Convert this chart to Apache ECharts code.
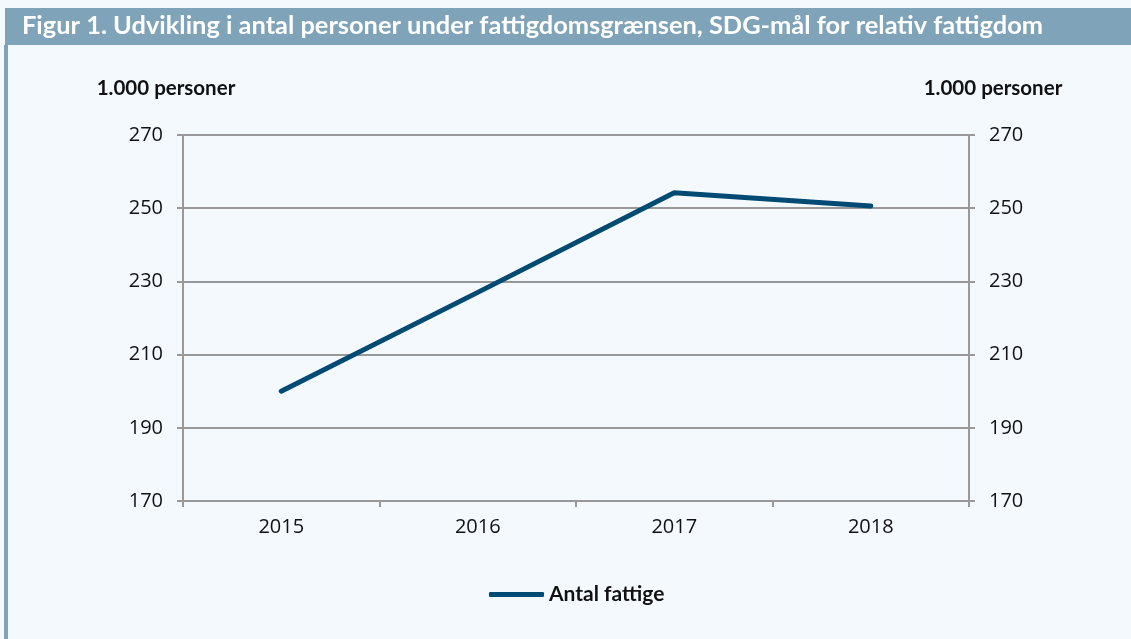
<!DOCTYPE html>
<html>
<head>
<meta charset="utf-8">
<script src="https://cdn.jsdelivr.net/npm/echarts@6/dist/echarts.min.js"></script>
<style>
  html, body { margin: 0; padding: 0; background: #f4f9fd; }
  #chart { width: 1131px; height: 639px; }
</style>
</head>
<body>
<div id="chart"></div>
<script>
// 数据
const years = ['2015', '2016', '2017', '2018']
const fattige = [200, 227, 254.2, 250.6]
const seriesName = 'Antal fattige'
const axisName = '1.000 personer'
const titleText = 'Figur 1. Udvikling i antal personer under fattigdomsgrænsen, SDG-mål for relativ fattigdom'

const chart = echarts.init(document.getElementById('chart'))

const axisLabelStyle = { color: '#111', fontSize: 20, fontFamily: 'Open Sans' }
const nameStyle = { color: '#111', fontSize: 20.5, fontWeight: 'bold', fontFamily: 'Lato' }

const options = {
  backgroundColor: '#f4f9fd',
  graphic: [
    // 标题背景条
    { type: 'rect', left: 5, top: 8, shape: { width: 1126, height: 37 }, style: { fill: '#7fa3b8' } },
    // 左边竖线
    { type: 'rect', left: 4, top: 45, shape: { width: 4, height: 594 }, style: { fill: '#7fa3b8' } },
    {
      type: 'text', left: 22, top: 13,
      style: { text: titleText, fill: '#fff', font: 'bold 25.4px Lato' }
    }
  ],
  grid: { left: 183, right: 162, top: 135, bottom: 138 },
  legend: {
    bottom: 29,
    left: 484,
    data: [seriesName],
    icon: 'roundRect',
    itemWidth: 55,
    itemHeight: 5,
    itemGap: 5,
    textStyle: { color: '#111', fontSize: 21, fontWeight: 'bold', fontFamily: 'Lato' }
  },
  xAxis: {
    type: 'category',
    data: years,
    boundaryGap: true,
    axisLine: { lineStyle: { color: '#999', width: 2 } },
    axisTick: { show: true, length: 6, lineStyle: { color: '#999', width: 2 } },
    axisLabel: { ...axisLabelStyle, margin: 16 }
  },
  yAxis: [
    {
      type: 'value',
      min: 170, max: 270, interval: 20,
      name: axisName,
      nameLocation: 'end',
      nameGap: 36,
      nameTextStyle: { ...nameStyle, padding: [0, 34, 0, 0] },
      axisLine: { show: true, lineStyle: { color: '#999', width: 2 } },
      axisTick: { show: true, length: 6, lineStyle: { color: '#999', width: 2 } },
      axisLabel: { ...axisLabelStyle, margin: 20 },
      splitLine: { lineStyle: { color: '#999', width: 2 } }
    },
    {
      type: 'value',
      position: 'right',
      min: 170, max: 270, interval: 20,
      name: axisName,
      nameLocation: 'end',
      nameGap: 36,
      nameTextStyle: { ...nameStyle, padding: [0, 0, 0, 48] },
      axisLine: { show: true, lineStyle: { color: '#999', width: 2 } },
      axisTick: { show: true, length: 6, lineStyle: { color: '#999', width: 2 } },
      axisLabel: { ...axisLabelStyle, margin: 20 },
      splitLine: { show: false }
    }
  ],
  series: [
    {
      name: seriesName,
      type: 'line',
      data: fattige,
      yAxisIndex: 0,
      symbol: 'none',
      lineStyle: { color: '#004a73', width: 5, cap: 'round' },
      itemStyle: { color: '#004a73' }
    }
  ]
}

chart.setOption(options)
</script>
</body>
</html>
